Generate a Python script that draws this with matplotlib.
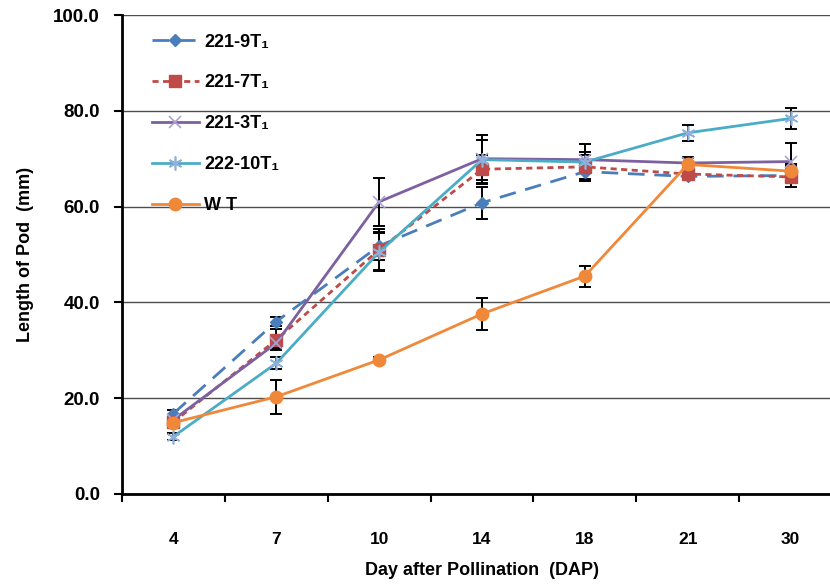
import matplotlib
matplotlib.use("Agg")
import matplotlib.pyplot as plt
import numpy as np

# Pod length (mm) at each sampling day after pollination
days = ["4", "7", "10", "14", "18", "21", "30"]
series_names = ["221-9T₁", "221-7T₁", "221-3T₁", "222-10T₁", "W T"]

len_221_9 = [16.8, 36.0, 51.8, 60.8, 67.3, 66.3, 66.5]
len_221_7 = [15.0, 32.2, 51.0, 67.8, 68.3, 66.8, 66.2]
len_221_3 = [15.5, 31.5, 61.0, 70.0, 69.8, 69.1, 69.4]
len_222_10 = [12.0, 27.3, 50.5, 69.8, 69.3, 75.4, 78.4]
len_wt = [14.9, 20.3, 28.0, 37.6, 45.5, 68.8, 67.4]

err_221_9 = [0.8, 1.0, 3.0, 3.3, 2.0, 0.8, 1.5]
err_221_7 = [0.8, 2.2, 4.3, 3.0, 2.5, 1.0, 2.2]
err_221_3 = [0.5, 1.0, 5.0, 5.0, 1.5, 1.0, 3.8]
err_222_10 = [0.8, 1.2, 4.0, 4.2, 3.8, 1.7, 2.2]
err_wt = [1.0, 3.6, 0.5, 3.4, 2.2, 1.5, 1.5]

yticks = [0, 20, 40, 60, 80, 100]

FONTS = ["Liberation Sans", "DejaVu Sans"]
plt.rcParams["font.family"] = FONTS

fig = plt.figure(figsize=(8.30, 5.86), dpi=100)
ax = fig.add_axes([122 / 830, 92 / 586, 720 / 830, 479 / 586])

x = np.arange(len(days))

styles = [
    dict(color="#4A7EBB", ls=(0, (6, 3.5)), marker="D", ms=6, mfc="#4A7EBB", mec="#4A7EBB"),
    dict(color="#BE4B48", ls=(0, (2.2, 1.6)), marker="s", ms=8, mfc="#BE4B48", mec="#BE4B48"),
    dict(color="#7D60A0", ls="-", marker="x", ms=9, mfc="none", mec="#A9A3CF", mew=1.2),
    dict(color="#4BACC6", ls="-", marker=(6, 2, 0), ms=10, mfc="none", mec="#8FB0DA", mew=1.2),
    dict(color="#F0883A", ls="-", marker="o", ms=9, mfc="#F0883A", mec="#F0883A"),
]
values = [len_221_9, len_221_7, len_221_3, len_222_10, len_wt]
errors = [err_221_9, err_221_7, err_221_3, err_222_10, err_wt]

handles = []
for name, vals, errs, st in zip(series_names, values, errors, styles):
    ax.errorbar(x, vals, yerr=errs, fmt="none", ecolor="black", elinewidth=1.4,
                capsize=4, capthick=1.4, zorder=2)
    h, = ax.plot(x, vals, label=name, lw=2.0, zorder=3, **st)
    handles.append(h)

ax.set_xlim(-0.5, 6.5)
ax.set_ylim(0, 100)
ax.set_yticks(yticks)
ax.set_yticklabels([f"{v:.1f}" for v in yticks], fontsize=13.5, fontweight="bold")
ax.set_xticks(x)
ax.set_xticklabels(days, fontsize=12.5, fontweight="bold")
ax.set_xticks(np.arange(-0.5, 7, 1.0), minor=True)
ax.tick_params(axis="x", which="major", length=0, pad=27)
ax.tick_params(axis="x", which="minor", length=6, width=1.5, direction="out")
ax.tick_params(axis="y", length=6, width=1.5, direction="out", pad=10)

ax.yaxis.grid(True, color="#4d4d4d", lw=1.0)
ax.set_axisbelow(True)
for s in ["top", "right"]:
    ax.spines[s].set_visible(False)
for s in ["left", "bottom"]:
    ax.spines[s].set_linewidth(2.0)

ax.set_xlabel("Day after Pollination  (DAP)", fontsize=13, fontweight="bold", labelpad=11)
ax.set_ylabel("Length of Pod  (mm)", fontsize=13, fontweight="bold", labelpad=14)

leg = ax.legend(handles=handles, loc="upper left", bbox_to_anchor=(0.019, 0.995),
                frameon=False, handlelength=2.6, handletextpad=0.3, labelspacing=1.32,
                prop=dict(family=FONTS, weight="bold", size=13))
leg.set_zorder(5)

fig.savefig("out.png", dpi=100)
